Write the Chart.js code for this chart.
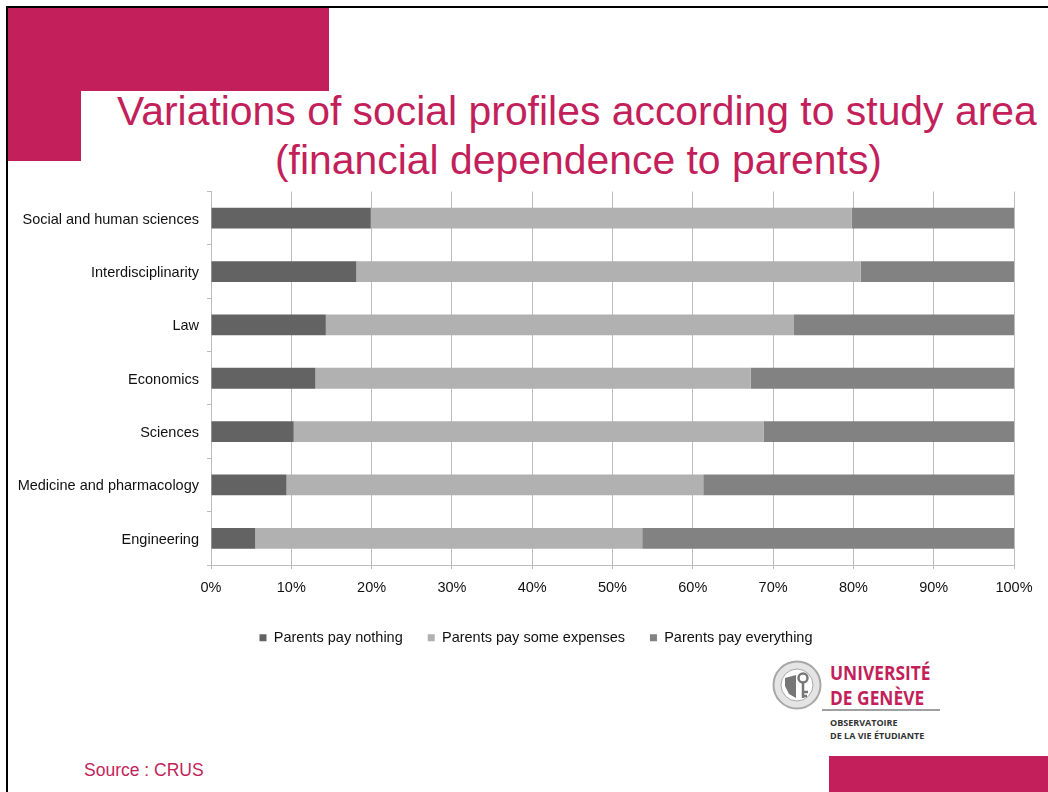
<!DOCTYPE html>
<html><head><meta charset="utf-8">
<script src="https://cdn.jsdelivr.net/npm/chart.js@4"></script>
<style>
html,body{margin:0;padding:0;background:#fff;overflow:hidden}
body{width:1048px;height:792px;position:relative;font-family:"Liberation Sans",Arial,sans-serif}
.d{position:absolute}
.p{background:#c21f5b}
canvas{position:absolute;left:0;top:0}
</style></head><body>
<div class="d" style="left:6px;top:6px;width:1042px;height:2px;background:#000"></div>
<div class="d" style="left:6px;top:6px;width:2px;height:786px;background:#000"></div>
<div class="d p" style="left:8px;top:8px;width:321px;height:83px"></div>
<div class="d p" style="left:8px;top:91px;width:73px;height:70px"></div>
<div class="d p" style="left:829px;top:756px;width:219px;height:36px"></div>
<div class="d" id="t1" style="left:117px;top:87px;font-size:40.9px;line-height:48px;color:#c21f5b;white-space:nowrap">Variations of social profiles according to study area</div>
<div class="d" id="t2" style="left:275px;top:136px;font-size:40.9px;line-height:48px;color:#c21f5b;white-space:nowrap">(financial dependence to parents)</div>
<div class="d" style="left:84px;top:760px;font-size:17.5px;line-height:20px;color:#c21f5b;white-space:nowrap">Source : CRUS</div>
<svg class="d" style="left:770px;top:656px" width="52" height="58" viewBox="0 0 52 58">
<circle cx="27" cy="29" r="23.5" fill="#e4e4e4" stroke="#a8a8a8" stroke-width="2"/>
<circle cx="27" cy="29" r="16" fill="#fff" stroke="#a8a8a8" stroke-width="1"/>
<path d="M15 22 L26 19 L26 42 L19 38 L15 30 Z" fill="#777"/>
<circle cx="33" cy="22" r="4.5" fill="none" stroke="#777" stroke-width="2.5"/>
<path d="M33 26 V42 M33 36 H38 M33 40 H37" stroke="#777" stroke-width="2.5" fill="none"/>
</svg>
<div class="d" style="left:830px;top:660px;font:bold 19.5px/25px 'Open Sans',sans-serif;color:#c21f5b;white-space:nowrap;transform-origin:0 0;transform:scaleX(.89)">UNIVERSITÉ<br>DE GENÈVE</div>
<div class="d" style="left:822px;top:709px;width:118px;height:2px;background:#a0a0a0"></div>
<div class="d" style="left:830px;top:717px;font:bold 9px/12.5px 'Open Sans',sans-serif;color:#333;white-space:nowrap">OBSERVATOIRE<br>DE LA VIE ÉTUDIANTE</div>
<canvas id="c" width="1048" height="655"></canvas>
<script>
const categories = ["Social and human sciences","Interdisciplinarity","Law","Economics","Sciences","Medicine and pharmacology","Engineering"];
const payNothing = [19.9,18.1,14.3,13.0,10.3,9.4,5.5];
const paySome = [59.9,62.8,58.3,54.2,58.5,51.9,48.2];
const payEverything = [20.2,19.1,27.4,32.8,31.2,38.7,46.3];
const xTicks = [0,10,20,30,40,50,60,70,80,90,100];
const font = {family:'"Liberation Sans",Arial,sans-serif',size:14.5};
const shiftLegend = {id:'shiftLegend',afterLayout(chart){chart.legend.left += 58;}};
new Chart(document.getElementById('c'),{
  type:'bar',
  plugins:[shiftLegend],
  data:{labels:categories,datasets:[
    {label:'Parents pay nothing',data:payNothing,backgroundColor:'#636363'},
    {label:'Parents pay some expenses',data:paySome,backgroundColor:'#b1b1b1'},
    {label:'Parents pay everything',data:payEverything,backgroundColor:'#818281'}
  ]},
  options:{
    indexAxis:'y',responsive:false,animation:false,
    layout:{padding:{left:0,right:34,top:191.5,bottom:0}},
    datasets:{bar:{categoryPercentage:0.39,barPercentage:1}},
    plugins:{
      tooltip:{enabled:false},
      legend:{position:'bottom',align:'center',
        labels:{boxWidth:7,boxHeight:7,padding:25,color:'#111',font}}
    },
    scales:{
      x:{stacked:true,min:0,max:100,
        afterFit(s){s.height=40.5;},
        afterBuildTicks(s){s.ticks=xTicks.map(v=>({value:v}));},
        grid:{color:'#bcbcbc',lineWidth:1,tickLength:4,tickColor:'#bcbcbc'},
        border:{color:'#bcbcbc'},
        ticks:{color:'#111',font,maxRotation:0,padding:10.5,callback:v=>v+'%'}},
      y:{stacked:true,
        afterFit(s){s.width=211;},
        grid:{drawOnChartArea:false,color:'#bcbcbc',tickLength:4,tickColor:'#bcbcbc'},
        border:{color:'#bcbcbc'},
        ticks:{color:'#111',font,padding:8,labelOffset:1.5,autoSkip:false}}
    }
  }
});
</script>
</body></html>
